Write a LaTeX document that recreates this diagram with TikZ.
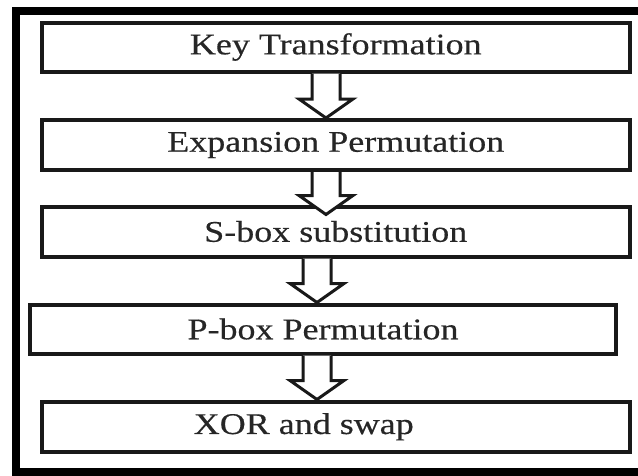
\documentclass[tikz,border=0pt]{standalone}
\usepackage{fontspec}
\setmainfont{Liberation Serif}[FakeStretch=1.2,FakeBold=0.4]
\usetikzlibrary{calc}

\tikzset{
  stagefont/.style={text=black!85, font=\fontsize{30}{36}\selectfont},
  stage/.style={draw=black!90, line width=4pt, fill=white, rectangle,
    inner sep=0pt, stagefont},
  hollow/.style={draw=black!90, line width=3pt, fill=white, line join=miter},
  frameline/.style={draw=black, line width=8pt}
}

% Hollow block arrow from the bottom of #1 to the top of #2,
% centred on the vertical through coordinate #3, tip #4 below #2.north
\newcommand\hollowarrow[4]{%
  \draw[hollow]
    ($(#1.south -| #3)+(-14,0)$) --
    ($(#2.north -| #3)+(-14,#4-19)$) --
    ($(#2.north -| #3)+(-27,#4-19)$) --
    ($(#2.north -| #3)+(0,#4)$) --
    ($(#2.north -| #3)+(27,#4-19)$) --
    ($(#2.north -| #3)+(14,#4-19)$) --
    ($(#1.south -| #3)+(14,0)$);
}

\begin{document}
\begin{tikzpicture}[x=1pt,y=-1pt]
  \useasboundingbox (0,0) rectangle (638,475);
  \fill[white] (0,0) rectangle (638,475);

  % outer frame, open on the right
  \draw[frameline] (638,11) -- (16,11) -- (16,472) -- (638,472);

  % process stages
  \node[stage, minimum width=587.5pt, minimum height=49pt] (key) at (335.75,47) {Key Transformation};
  \node[stage, minimum width=587.5pt, minimum height=50pt] (exp) at (335.75,145) {Expansion Permutation};
  \node[stage, minimum width=587.5pt, minimum height=50pt] (sbox) at (335.75,231.5) {S-box substitution};
  \node[stage, minimum width=586pt, minimum height=49pt] (pbox) at (323,329) {P-box Permutation};
  \node[stage, minimum width=587.5pt, minimum height=50.5pt,
        label={[xshift=-32pt, stagefont]center:XOR and swap}] (xor) at (335.75,426.75) {};

  % arrow axes
  \coordinate (axa) at (326,0);
  \coordinate (axb) at (317,0);

  \hollowarrow{key}{exp}{axa}{0}
  \hollowarrow{exp}{sbox}{axa}{10}
  \hollowarrow{sbox}{pbox}{axb}{0}
  \hollowarrow{pbox}{xor}{axb}{0}
\end{tikzpicture}
\end{document}
